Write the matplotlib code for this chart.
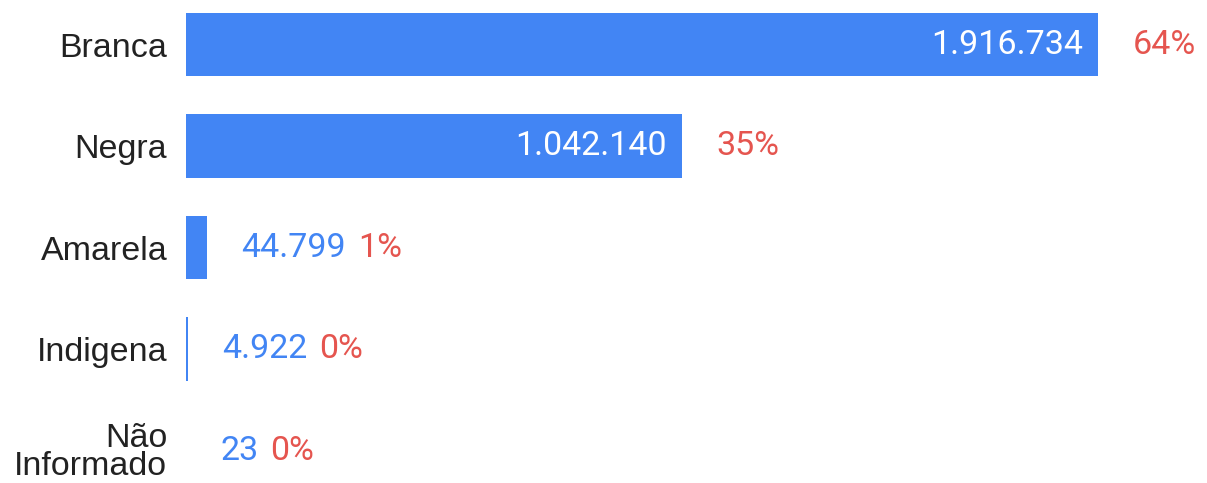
import matplotlib
matplotlib.use("Agg")
import matplotlib.pyplot as plt

categories = ["Branca", "Negra", "Amarela", "Indigena", "Não\nInformado"]
values = [1916734, 1042140, 44799, 4922, 23]
value_labels = ["1.916.734", "1.042.140", "44.799", "4.922", "23"]
pct_labels = ["64%", "35%", "1%", "0%", "0%"]
inside = [True, True, False, False, False]

BLUE = "#4285F4"
RED = "#E5554F"
GREY = "#222222"

plt.rcParams['font.family'] = ['Roboto', 'DejaVu Sans']

W, H = 1207, 483
fig = plt.figure(figsize=(W / 100, H / 100), dpi=100)
ax = fig.add_axes([186 / W, 0, 1 - 186 / W, 1])

pos = list(range(len(categories)))
ax.barh(pos, values, height=0.625, color=BLUE)
ax.set_xlim(0, 1916734 * (W - 186) / 912)
ax.set_ylim((H - 44.5) / 101.5, -44.5 / 101.5)

ax.set_yticks(pos)
ax.set_yticklabels(categories, fontsize=24.5, color=GREY, ha="right", linespacing=0.88,
                   family=['Liberation Sans', 'DejaVu Sans'])
ax.tick_params(axis="y", length=0, pad=13.5)
ax.set_xticks([])
for s in ax.spines.values():
    s.set_visible(False)

fs = 24.5
for i, (v, vl, pl, ins) in enumerate(zip(values, value_labels, pct_labels, inside)):
    if ins:
        ax.annotate(vl, xy=(v, i), xytext=(-15, 0), textcoords="offset pixels",
                    ha="right", va="center", color="white", fontsize=fs)
        ax.annotate(pl, xy=(v, i), xytext=(35, 0), textcoords="offset pixels",
                    ha="left", va="center", color=RED, fontsize=fs)
    else:
        t = ax.annotate(vl, xy=(v, i), xytext=(34, 0), textcoords="offset pixels",
                        ha="left", va="center", color=BLUE, fontsize=fs)
        ax.annotate(pl, xy=(1, 0.5), xycoords=t, xytext=(12, 0), textcoords="offset pixels",
                    ha="left", va="center", color=RED, fontsize=fs)

fig.savefig("out.png", dpi=100)
